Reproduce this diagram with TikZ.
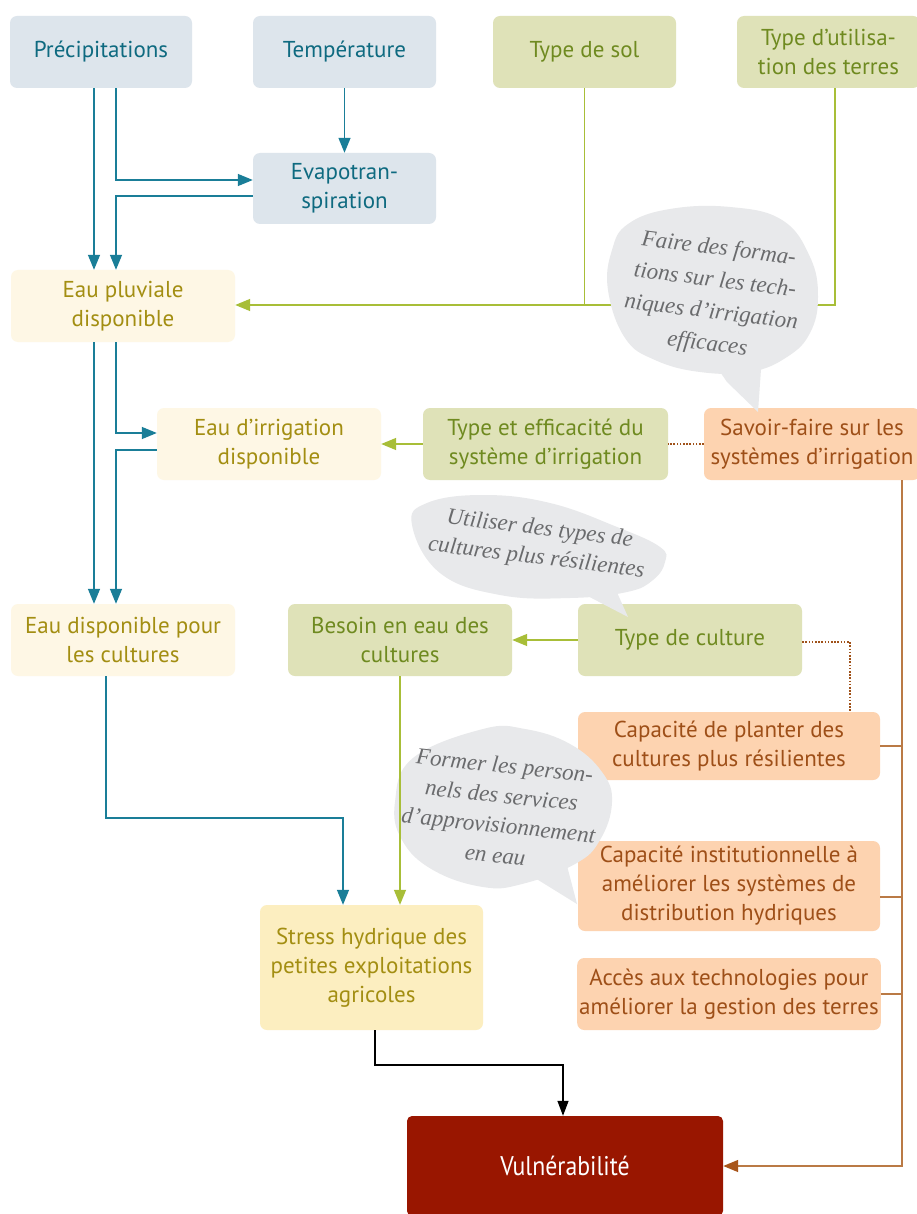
\documentclass[tikz,border=0pt]{standalone}
\usepackage{fontspec}
\newfontfamily\boxfont{PT Sans}
\newfontfamily\vulnfont[FakeStretch=0.88]{PT Sans}
\newfontfamily\notefont{Liberation Serif}
\usetikzlibrary{arrows.meta}

\definecolor{blueFill}{HTML}{DDE5EC}
\definecolor{blueText}{HTML}{0E6A80}
\definecolor{tealLine}{HTML}{1A7E98}
\definecolor{greenFill}{HTML}{DFE2B8}
\definecolor{greenText}{HTML}{6F8A20}
\definecolor{greenLine}{HTML}{A8BE38}
\definecolor{creamFill}{HTML}{FEF7E5}
\definecolor{creamText}{HTML}{A38E12}
\definecolor{stressFill}{HTML}{FCEEC0}
\definecolor{orangeFill}{HTML}{FDD3B0}
\definecolor{orangeText}{HTML}{9E4F18}
\definecolor{brownLine}{HTML}{BA7A45}
\definecolor{brownTip}{HTML}{A8561C}
\definecolor{dotBrown}{HTML}{A0521A}
\definecolor{vulnFill}{HTML}{991600}
\definecolor{bubbleFill}{HTML}{E8E9EB}
\definecolor{bubbleText}{HTML}{6A6B6D}

\tikzset{
  box/.style={rounded corners=7pt, inner sep=2pt, align=center,
    font=\boxfont\fontsize{23}{29}\selectfont},
  bluebox/.style={box, fill=blueFill, text=blueText},
  greenbox/.style={box, fill=greenFill, text=greenText},
  creambox/.style={box, fill=creamFill, text=creamText},
  stressbox/.style={box, fill=stressFill, text=creamText},
  orangebox/.style={box, fill=orangeFill, text=orangeText},
  vulnbox/.style={box, rounded corners=5pt, fill=vulnFill, text=white,
    font=\vulnfont\fontsize{27}{31}\selectfont},
  tip/.style={-{Triangle[length=15pt,width=12pt]}},
  tealarrow/.style={draw=tealLine, line width=1.4pt, tip},
  greenarrow/.style={draw=greenLine, line width=1.4pt, tip},
  greenline/.style={draw=greenLine, line width=1.4pt},
  brownline/.style={draw=brownLine, line width=1.4pt},
  brownarrow/.style={draw=brownLine, line width=1.4pt,
    -{Triangle[length=15pt,width=12pt,color=brownTip]}},
  dotline/.style={draw=dotBrown, line width=1.6pt, dash pattern=on 1.6pt off 1.6pt},
  blackarrow/.style={draw=black, line width=1.3pt,
    -{Triangle[length=15pt,width=11pt]}},
  bubble/.style={fill=bubbleFill},
  note/.style={text=bubbleText, align=center, inner sep=0pt,
    font=\notefont\itshape\fontsize{23}{32}\selectfont}
}

\begin{document}
\begin{tikzpicture}[x=1pt,y=-1pt]
\useasboundingbox (0,0) rectangle (916,1214);
\fill[white] (0,0) rectangle (916,1214);

% ---- boxes ----
\node[bluebox, minimum width=182pt, minimum height=72pt] (prec) at (101,52) {Précipitations};
\node[bluebox, minimum width=183pt, minimum height=72pt] (temp) at (344.5,52) {Température};
\node[greenbox, minimum width=183pt, minimum height=72pt] (sol) at (584.5,52) {Type de sol};
\node[greenbox, minimum width=183pt, minimum height=72pt] (util) at (828.5,52) {Type d’utilisa-\\tion des terres};
\node[bluebox, minimum width=183pt, minimum height=71pt] (evap) at (344.5,188.5) {Evapotran-\\spiration};
\node[creambox, minimum width=224pt, minimum height=72pt] (pluv) at (123,306) {Eau pluviale\\disponible};
\node[creambox, minimum width=224pt, minimum height=72pt] (irrig) at (269,444) {Eau d’irrigation\\disponible};
\node[greenbox, minimum width=245pt, minimum height=72pt] (typeeff) at (545.5,444) {Type et efficacité du\\système d’irrigation};
\node[orangebox, minimum width=216pt, minimum height=72pt] (savoir) at (812,444) {Savoir-faire sur les\\systèmes d’irrigation};
\node[creambox, minimum width=224pt, minimum height=72pt] (dispo) at (123,640) {Eau disponible pour\\les cultures};
\node[greenbox, minimum width=224pt, minimum height=72pt] (besoin) at (400,640) {Besoin en eau des\\cultures};
\node[greenbox, minimum width=224pt, minimum height=72pt] (culture) at (690,640) {Type de culture};
\node[orangebox, minimum width=302pt, minimum height=68pt] (planter) at (729,746) {Capacité de planter des\\cultures plus résilientes};
\node[orangebox, minimum width=302pt, minimum height=90pt] (instit) at (729,886) {Capacité institutionnelle à\\améliorer les systèmes de\\distribution hydriques};
\node[orangebox, minimum width=302pt, minimum height=72pt] (acces) at (729,994) {Accès aux technologies pour\\améliorer la gestion des terres};
\node[stressbox, minimum width=223pt, minimum height=125pt] (stress) at (371.5,967.5) {Stress hydrique des\\petites exploitations\\agricoles};
\node[vulnbox, minimum width=316pt, minimum height=100pt] (vuln) at (565,1166) {Vulnérabilité};

% ---- guide coordinates for parallel connector lanes ----
\coordinate (xa) at (94,0);
\coordinate (xb) at (116,0);
\coordinate (xu) at (835,0);
\coordinate (xd) at (850,0);
\coordinate (xr) at (902,0);
\coordinate (xdisp) at (106,0);
\coordinate (xst) at (343,0);
\coordinate (ydisp) at (0,818);
\coordinate (yvuln) at (0,1065);

% ---- water balance connectors ----
\draw[tealarrow] (prec.south -| xa) -- (pluv.north -| xa);
\draw[tealarrow] (prec.south -| xb) |- ([yshift=8.5pt]evap.west);
\draw[tealarrow] (temp.south) -- (evap.north);
\draw[tealarrow] ([yshift=-7.5pt]evap.west) -| (pluv.north -| xb);
\draw[tealarrow] (pluv.south -| xa) -- (dispo.north -| xa);
\draw[tealarrow] (pluv.south -| xb) |- ([yshift=11pt]irrig.west);
\draw[tealarrow] ([yshift=-6pt]irrig.west) -| (dispo.north -| xb);
\draw[tealarrow] (dispo.south -| xdisp) -- (xdisp |- ydisp) -| (stress.north -| xst);

% ---- land and crop connectors ----
\draw[greenarrow] (sol.south) |- ([yshift=1pt]pluv.east);
\draw[greenline] (util.south -| xu) |- ([yshift=1pt]pluv.east -| sol.south);
\draw[greenarrow] (typeeff.west) -- (irrig.east);
\draw[greenarrow] (culture.west) -- (besoin.east);

% ---- capacities ----
\draw[dotline] (savoir.west) -- (typeeff.east);
\draw[dotline] ([yshift=-2pt]culture.east) -| (planter.north -| xd);
\draw[brownarrow] (savoir.south -| xr) |- (vuln.east);
\draw[brownline] (planter.east) -- (planter.east -| xr);
\draw[brownline] ([yshift=-11pt]instit.east) -- ([yshift=-11pt]instit.east -| xr);
\draw[brownline] (acces.east) -- (acces.east -| xr);

\draw[blackarrow] ([xshift=3.5pt]stress.south) -- ([xshift=3.5pt]stress.south |- yvuln) -| ([xshift=-2pt]vuln.north);

% ---- speech bubbles ----
\fill[bubble] plot[smooth cycle, tension=0.7] coordinates {
  (608,290) (612,250) (628,224) (670,209) (730,207) (782,220) (810,257)
  (818,297) (810,333) (787,357) (750,372) (700,372) (655,360) (625,338)};
\fill[bubble] (712,360) -- (727,382) -- (758,412) -- (762,355) -- cycle;
\node[note, rotate=-7] (n1) at (713,297)
  {Faire des forma-\\tions sur les tech-\\niques d’irrigation\\efficaces};

\fill[bubble] plot[smooth cycle, tension=0.7] coordinates {
  (412,525) (427,503) (483,495) (550,503) (617,527) (660,547) (665,562)
  (653,580) (627,592) (570,598) (500,595) (440,573)};
\fill[bubble] (580,592) -- (628,617) -- (615,588) -- cycle;
\node[note, rotate=-7, font=\notefont\itshape\fontsize{23}{29}\selectfont] (n2) at (538,544)
  {Utiliser des types de\\cultures plus résilientes};

\fill[bubble] plot[smooth cycle, tension=0.7] coordinates {
  (395,802) (413,758) (483,729) (525,729) (570,744) (602,772) (612,802)
  (600,840) (575,864) (522,884) (483,887) (433,870) (402,840)};
\fill[bubble] (535,878) -- (577,904) -- (566,862) -- cycle;
\node[note, rotate=-6, font=\notefont\itshape\fontsize{23}{30}\selectfont] (n3) at (500,810)
  {Former les person-\\nels des services\\d’approvisionnement\\en eau};

\draw[greenarrow] (besoin.south) -- (besoin.south |- stress.north);
\end{tikzpicture}
\end{document}
